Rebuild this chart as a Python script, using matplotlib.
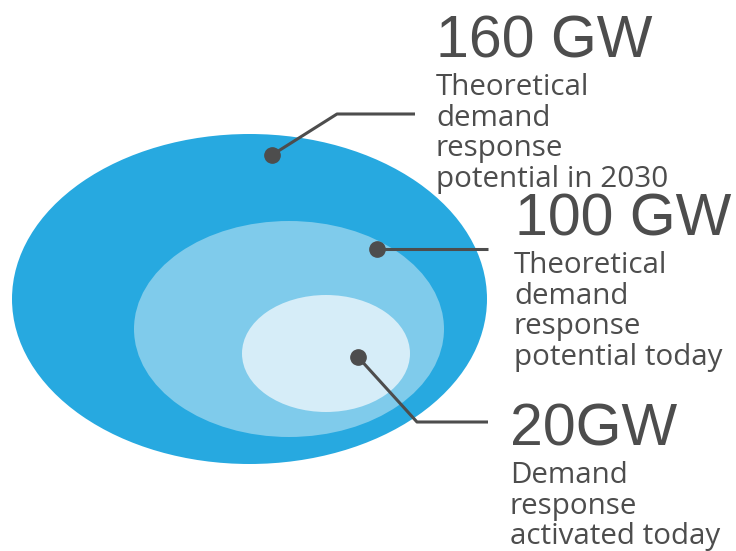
import matplotlib.pyplot as plt
from matplotlib.patches import Ellipse

# nested ellipses: centre x, centre y, width, height (pixel space)
ell_cx = [249.5, 289, 326]
ell_cy = [299, 329, 353.5]
ell_w = [475, 310, 168]
ell_h = [330, 216, 117]
ell_colors = ["#27A9E0", "#7FCBEB", "#D6EDF8"]

# callouts
values = ["160 GW", "100 GW", "20GW"]
labels = [
    "Theoretical\ndemand\nresponse\npotential in 2030",
    "Theoretical\ndemand\nresponse\npotential today",
    "Demand\nresponse\nactivated today",
]
dots = [(272, 155), (377, 249), (358, 357)]
leaders = [
    [(272, 155), (337, 114), (415, 114)],
    [(377, 249), (488, 249)],
    [(358, 357), (417, 422), (488, 422)],
]
value_pos = [(436, 57), (515, 235), (510, 445)]
label_pos = [(436, 95), (514, 273), (510, 483)]

dark = "#4D4D4D"

fig = plt.figure(figsize=(7.36, 5.51), dpi=100)
ax = fig.add_axes([0, 0, 1, 1])
ax.set_xlim(0, 736)
ax.set_ylim(551, 0)
ax.axis("off")

for cx, cy, w, h, c in zip(ell_cx, ell_cy, ell_w, ell_h, ell_colors):
    ax.add_patch(Ellipse((cx, cy), w, h, facecolor=c, edgecolor="none"))

for pts in leaders:
    xs = [p[0] for p in pts]
    ys = [p[1] for p in pts]
    ax.plot(xs, ys, color=dark, lw=2.2, solid_capstyle="butt")
for x, y in dots:
    ax.plot(x, y, "o", color=dark, ms=11)

for v, (x, y) in zip(values, value_pos):
    ax.text(x, y, v, fontsize=42.5, color=dark, family="Liberation Sans",
            va="baseline", ha="left")

for lab, (x, y) in zip(labels, label_pos):
    for i, line in enumerate(lab.split("\n")):
        ax.text(x, y + i * 30.7, line, fontsize=21.3, color=dark,
                family="Open Sans", va="baseline", ha="left")

fig.savefig("out.png", dpi=100)
